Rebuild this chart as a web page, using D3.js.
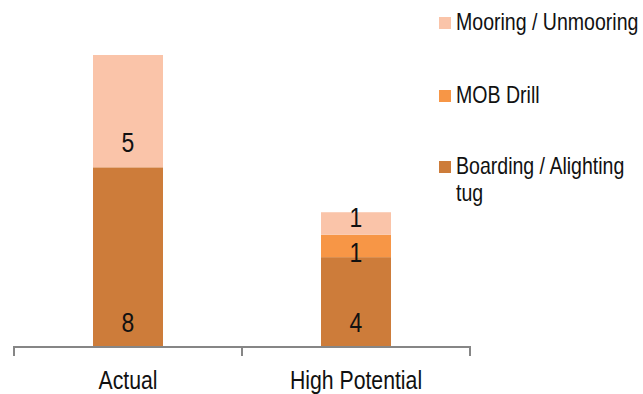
<!DOCTYPE html>
<html><head><meta charset="utf-8">
<script src="https://cdn.jsdelivr.net/npm/d3@7"></script>
<style>
html,body{margin:0;padding:0;background:#fff;}
text{font-family:"Liberation Sans Narrow","Arial Narrow","Liberation Sans",Arial,sans-serif;}
</style></head>
<body>
<svg id="chart" width="643" height="394"></svg>
<script>
const categories = ["Actual", "High Potential"];
const seriesNames = ["Boarding / Alighting tug", "MOB Drill", "Mooring / Unmooring"];
const boarding = [8, 4];
const mobDrill = [0, 1];
const mooring = [5, 1];
const colors = ["#CD7C3A", "#F79646", "#FAC4A9"];
const legendOrder = [2, 1, 0];

const NARROW = 0.85;
const svg = d3.select("#chart");
function ntext(parent, x0, y0, size, anchor) {
  return parent.append("g").attr("transform", `translate(${x0},${y0}) scale(${NARROW},1)`)
    .append("text").attr("x", 0).attr("y", 0).attr("font-size", size)
    .attr("text-anchor", anchor || "start").attr("fill", "#111");
}

const values = [boarding, mobDrill, mooring];
const data = categories.map((c, i) => {
  const o = {cat: c};
  seriesNames.forEach((s, j) => o[s] = values[j][i]);
  return o;
});
const stack = d3.stack().keys(seriesNames)(data);

const x = d3.scaleBand().domain(categories).range([14, 470]).paddingInner(0.693).paddingOuter(0.3465);
const xEdge = d3.scaleLinear().domain([0, categories.length]).range([14, 470]);
const y = d3.scaleLinear().domain([0, 13]).range([347, 55]);

const g = svg.append("g");
stack.forEach((layer, j) => {
  g.selectAll(null).data(layer).enter().append("rect")
    .attr("x", d => x(d.data.cat))
    .attr("width", x.bandwidth())
    .attr("y", d => y(d[1]))
    .attr("height", d => y(d[0]) - y(d[1]))
    .attr("fill", colors[j]);
});

// labels
categories.forEach((c, i) => {
  const labs = [];
  stack.forEach((layer, j) => {
    const d = layer[i];
    const v = d[1] - d[0];
    if (v <= 0) return;
    const bottom = y(d[0]), h = y(d[0]) - y(d[1]);
    labs.push({v, cy: bottom - Math.min(25, h / 2)});
  });
  for (let k = 1; k < labs.length; k++) {
    const a = labs[k - 1], b = labs[k];
    if (a.cy - b.cy < 35) {
      const mid = (a.cy + b.cy) / 2;
      a.cy = mid + 17.5; b.cy = mid - 17.5;
    }
  }
  labs.forEach(l => {
    ntext(g, x(c) + x.bandwidth() / 2, l.cy, 27, "middle").attr("dy", "0.36em").text(l.v);
  });
});

// axis
const axisG = svg.append("g");
axisG.append("line").attr("x1", xEdge(0)).attr("x2", xEdge(categories.length))
  .attr("y1", 347).attr("y2", 347).attr("stroke", "#868686").attr("stroke-width", 2);
d3.range(categories.length + 1).forEach(k => {
  axisG.append("line").attr("x1", xEdge(k)).attr("x2", xEdge(k))
    .attr("y1", 346).attr("y2", 356).attr("stroke", "#868686").attr("stroke-width", 2);
});
categories.forEach(c => {
  ntext(axisG, x(c) + x.bandwidth() / 2, 389, 25, "middle").text(c);
});

// legend
const legendLines = [["Mooring / Unmooring"], ["MOB Drill"], ["Boarding / Alighting", "tug"]];
const legendBase = [30, 103, 174];
legendOrder.forEach((si, k) => {
  const lg = svg.append("g");
  lg.append("rect").attr("x", 439).attr("y", legendBase[k] - 13).attr("width", 12).attr("height", 12).attr("fill", colors[si]);
  const t = ntext(lg, 456, legendBase[k], 23, "start");
  legendLines[k].forEach((ln, li) => {
    t.append("tspan").attr("x", 0).attr("dy", li === 0 ? 0 : 27).text(ln);
  });
});
</script>
</body></html>
